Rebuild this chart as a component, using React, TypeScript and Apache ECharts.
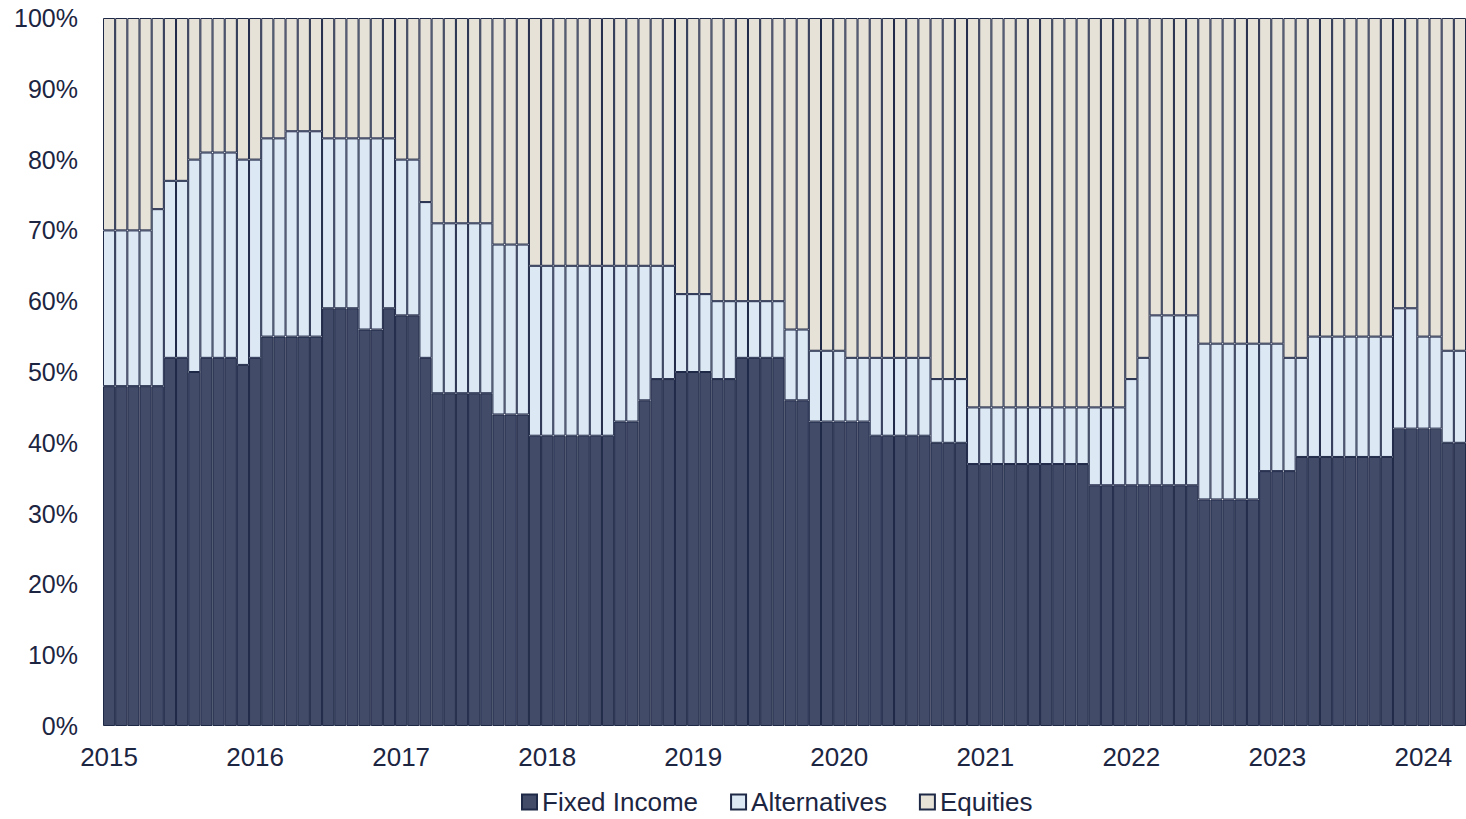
import React, { useEffect, useRef } from "react";
import * as echarts from "echarts";

// Monthly categories Jan 2015 .. Apr 2024 (112 bars)
const months: string[] = [];
for (let y = 2015; y <= 2024; y++) {
  for (let m = 1; m <= 12; m++) {
    if (y === 2024 && m > 4) break;
    months.push(`${y}-${String(m).padStart(2, "0")}`);
  }
}

const fixedIncome = [
  48, 48, 48, 48, 48, 52, 52, 50, 52, 52, 52, 51,
  52, 55, 55, 55, 55, 55, 59, 59, 59, 56, 56, 59,
  58, 58, 52, 47, 47, 47, 47, 47, 44, 44, 44, 41,
  41, 41, 41, 41, 41, 41, 43, 43, 46, 49, 49, 50,
  50, 50, 49, 49, 52, 52, 52, 52, 46, 46, 43, 43,
  43, 43, 43, 41, 41, 41, 41, 41, 40, 40, 40, 37,
  37, 37, 37, 37, 37, 37, 37, 37, 37, 34, 34, 34,
  34, 34, 34, 34, 34, 34, 32, 32, 32, 32, 32, 36,
  36, 36, 38, 38, 38, 38, 38, 38, 38, 38, 42, 42,
  42, 42, 40, 40,
];

const alternatives = [
  22, 22, 22, 22, 25, 25, 25, 30, 29, 29, 29, 29,
  28, 28, 28, 29, 29, 29, 24, 24, 24, 27, 27, 24,
  22, 22, 22, 24, 24, 24, 24, 24, 24, 24, 24, 24,
  24, 24, 24, 24, 24, 24, 22, 22, 19, 16, 16, 11,
  11, 11, 11, 11, 8, 8, 8, 8, 10, 10, 10, 10,
  10, 9, 9, 11, 11, 11, 11, 11, 9, 9, 9, 8,
  8, 8, 8, 8, 8, 8, 8, 8, 8, 11, 11, 11,
  15, 18, 24, 24, 24, 24, 22, 22, 22, 22, 22, 18,
  18, 16, 14, 17, 17, 17, 17, 17, 17, 17, 17, 17,
  13, 13, 13, 13,
];

const equities = [
  30, 30, 30, 30, 27, 23, 23, 20, 19, 19, 19, 20,
  20, 17, 17, 16, 16, 16, 17, 17, 17, 17, 17, 17,
  20, 20, 26, 29, 29, 29, 29, 29, 32, 32, 32, 35,
  35, 35, 35, 35, 35, 35, 35, 35, 35, 35, 35, 39,
  39, 39, 40, 40, 40, 40, 40, 40, 44, 44, 47, 47,
  47, 48, 48, 48, 48, 48, 48, 48, 51, 51, 51, 55,
  55, 55, 55, 55, 55, 55, 55, 55, 55, 55, 55, 55,
  51, 48, 42, 42, 42, 42, 46, 46, 46, 46, 46, 46,
  46, 48, 48, 45, 45, 45, 45, 45, 45, 45, 41, 41,
  45, 45, 47, 47,
];

const TEXT = "#1c2541";
const BORDER = "#1e2847";

export default function App() {
  const ref = useRef<HTMLDivElement>(null);
  useEffect(() => {
    if (!ref.current) return;
    const chart = echarts.init(ref.current, undefined, { renderer: "svg" });
    const font = "Liberation Sans, Arial, sans-serif";
    const mk = (name: string, data: number[], color: string) => ({
      name,
      type: "bar",
      stack: "total",
      data,
      barCategoryGap: "0%",
      itemStyle: { color, borderColor: BORDER, borderWidth: 1 },
      emphasis: { disabled: true },
    });
    chart.setOption({
      animation: false,
      backgroundColor: "#ffffff",
      textStyle: { fontFamily: font },
      grid: { left: 103, top: 18, width: 1369, bottom: 93, containLabel: false },
      legend: {
        data: ["Fixed Income", "Alternatives", "Equities"],
        top: 784,
        left: 516,
        itemWidth: 15,
        itemHeight: 15,
        itemGap: 32,
        icon: "rect",
        textStyle: { fontSize: 26, color: TEXT, fontFamily: font },
      },
      xAxis: {
        type: "category",
        data: months,
        axisLine: { show: false },
        axisTick: { show: false },
        splitLine: { show: false },
        axisLabel: {
          fontSize: 26,
          color: TEXT,
          fontFamily: font,
          margin: 18,
          interval: (i: number) => i % 12 === 0,
          formatter: (v: string) => v.slice(0, 4),
        },
      },
      yAxis: {
        type: "value",
        min: 0,
        max: 100,
        interval: 10,
        axisLine: { show: false },
        axisTick: { show: false },
        splitLine: { show: false },
        axisLabel: {
          fontSize: 25,
          color: TEXT,
          fontFamily: font,
          margin: 25,
          formatter: "{value}%",
        },
      },
      series: [
        mk("Fixed Income", fixedIncome, "#424b68"),
        mk("Alternatives", alternatives, "#dde8f5"),
        mk("Equities", equities, "#e7e2d8"),
      ],
    });
    return () => chart.dispose();
  }, []);
  return (
    <div
      ref={ref}
      style={{ position: "absolute", left: 0, top: 0, width: 1466, height: 819 }}
    />
  );
}
